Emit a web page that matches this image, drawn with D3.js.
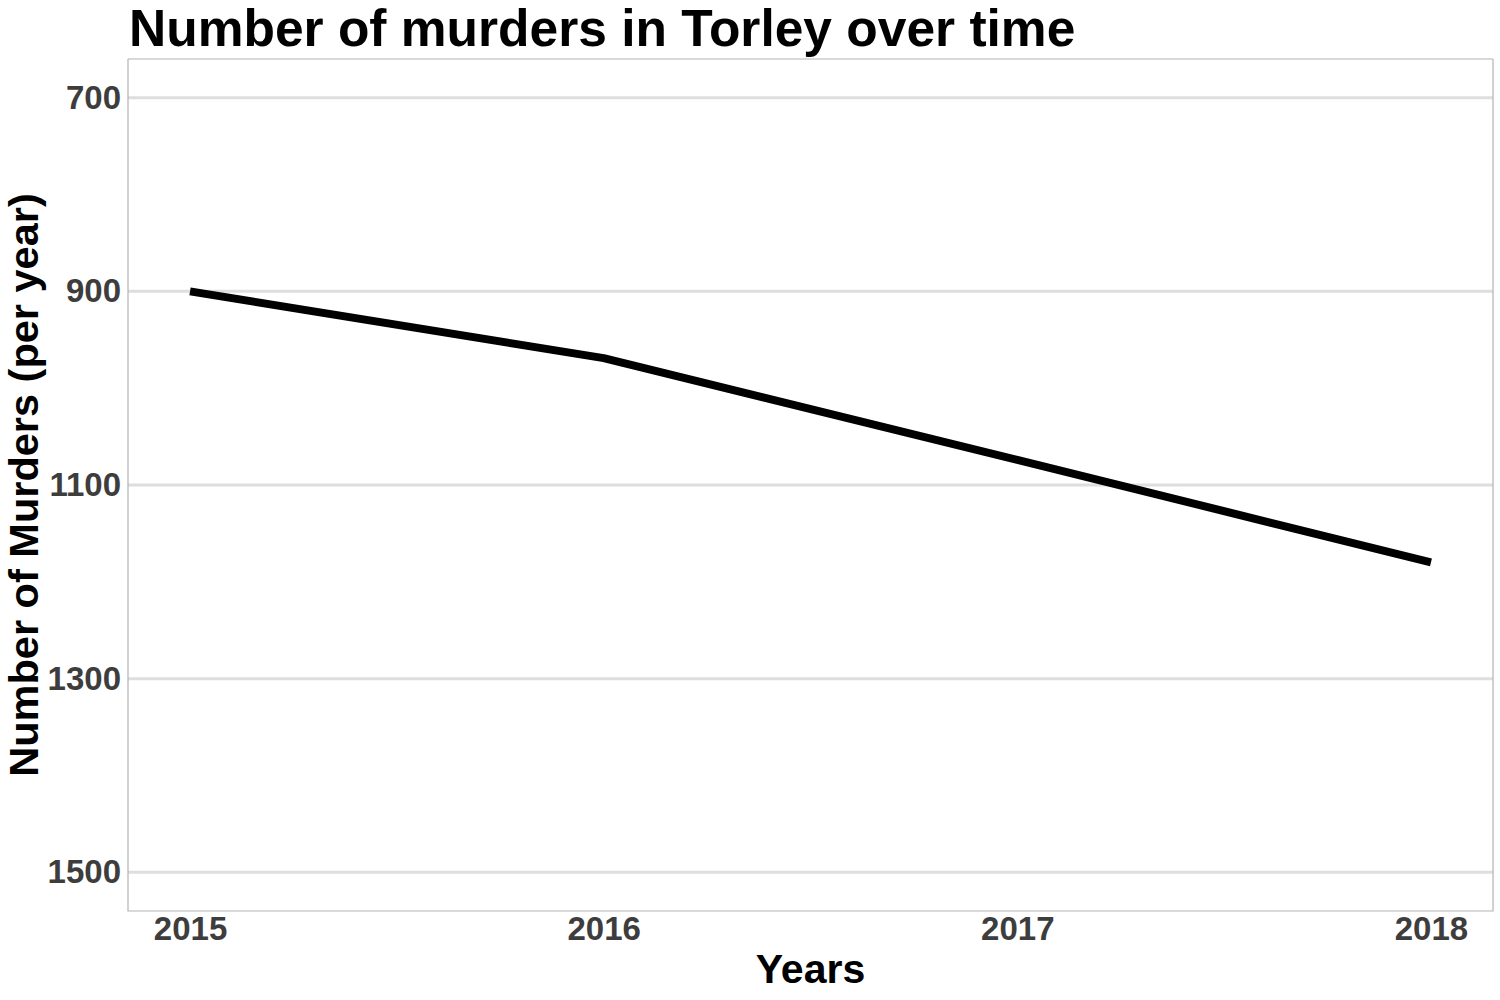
<!DOCTYPE html>
<html>
<head>
<meta charset="utf-8">
<script src="https://cdn.jsdelivr.net/npm/d3@7"></script>
<style>
  html, body { margin: 0; padding: 0; background: #fff; }
  svg { display: block; font-family: "Liberation Sans", Arial, Helvetica, sans-serif; }
</style>
</head>
<body>
<svg id="chart" width="1500" height="1000"></svg>
<script>
const years = [2015, 2016, 2017, 2018];
const murders = [900, 969, 1074, 1180];
const yTicks = [700, 900, 1100, 1300, 1500];
const xTicks = [2015, 2016, 2017, 2018];
const titleText = "Number of murders in Torley over time";
const xTitle = "Years";
const yTitle = "Number of Murders (per year)";

const svg = d3.select("#chart");
const panel = { left: 128, right: 1493, top: 59, bottom: 911 };

const x = d3.scaleLinear()
  .domain([2015 - 0.15, 2018 + 0.15])
  .range([panel.left, panel.right]);
const y = d3.scaleLinear()
  .domain([660, 1540])
  .range([panel.top, panel.bottom]);

// gridlines
svg.append("g").selectAll("line").data(yTicks).join("line")
  .attr("x1", panel.left).attr("x2", panel.right)
  .attr("y1", d => y(d)).attr("y2", d => y(d))
  .attr("stroke", "#dedede").attr("stroke-width", 3);

// panel border
svg.append("line")
  .attr("x1", panel.left).attr("x2", panel.right)
  .attr("y1", panel.top).attr("y2", panel.top)
  .attr("stroke", "#d9d9d9").attr("stroke-width", 2);
svg.append("path")
  .attr("d", `M${panel.left},${panel.top}V${panel.bottom}H${panel.right}V${panel.top}`)
  .attr("fill", "none").attr("stroke", "#b3b3b3").attr("stroke-width", 1.2);

// line
const line = d3.line().x((d, i) => x(years[i])).y(d => y(d));
svg.append("path")
  .datum(murders)
  .attr("d", line)
  .attr("fill", "none")
  .attr("stroke", "#000")
  .attr("stroke-width", 8)
  .attr("stroke-linejoin", "round")
  .attr("stroke-linecap", "butt");

// y axis labels
const yAxis = d3.axisLeft(y).tickValues(yTicks).tickFormat(d3.format("d")).tickSize(0).tickPadding(7);
const gy = svg.append("g").attr("transform", `translate(${panel.left},0)`).call(yAxis);
gy.select(".domain").remove();
gy.selectAll("text")
  .attr("font-size", 33).attr("font-weight", "bold").attr("fill", "#3d3d3d")
  .attr("font-family", "Liberation Sans, Arial, sans-serif");

// x axis labels
const xAxis = d3.axisBottom(x).tickValues(xTicks).tickFormat(d3.format("d")).tickSize(0).tickPadding(6);
const gx = svg.append("g").attr("transform", `translate(0,${panel.bottom})`).call(xAxis);
gx.select(".domain").remove();
gx.selectAll("text")
  .attr("font-size", 33).attr("font-weight", "bold").attr("fill", "#3d3d3d")
  .attr("font-family", "Liberation Sans, Arial, sans-serif");

// titles
svg.append("text")
  .attr("x", 129).attr("y", 46)
  .attr("font-size", 51.5).attr("font-weight", "bold").attr("fill", "#000")
  .text(titleText);

svg.append("text")
  .attr("x", (panel.left + panel.right) / 2).attr("y", 983)
  .attr("text-anchor", "middle")
  .attr("font-size", 41).attr("font-weight", "bold").attr("fill", "#000")
  .text(xTitle);

svg.append("text")
  .attr("transform", `translate(38,${(panel.top + panel.bottom) / 2}) rotate(-90)`)
  .attr("text-anchor", "middle")
  .attr("font-size", 41.5).attr("font-weight", "bold").attr("fill", "#000")
  .text(yTitle);
</script>
</body>
</html>
